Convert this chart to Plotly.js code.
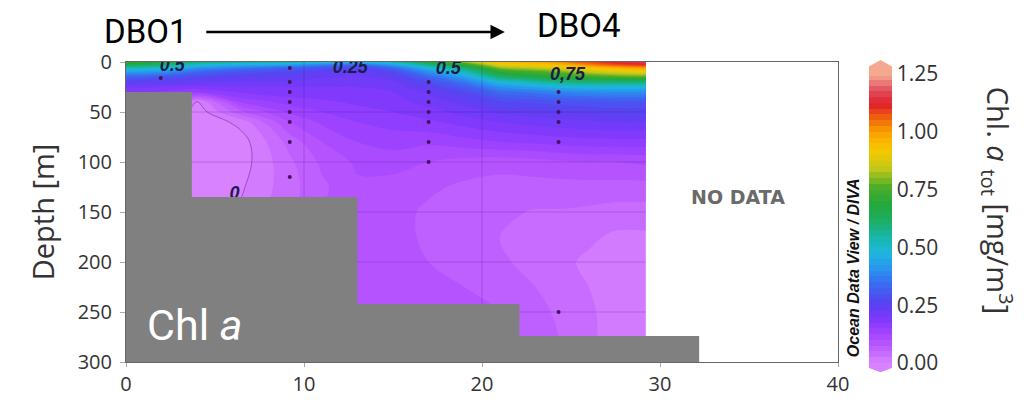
<!DOCTYPE html>
<html>
<head>
<meta charset="utf-8">
<script src="https://cdn.plot.ly/plotly-3.0.1.min.js"></script>
<style>html,body{margin:0;padding:0;background:#fff;}#chart{width:1025px;height:404px;}</style>
</head>
<body>
<div id="chart"></div>
<script>
// ---- data read from the section (distance km, depth m, Chl a mg/m3) ----
const distKm = [0, 2, 4, 6.5, 9.2, 11, 13, 15, 17, 19, 21, 23, 24.3, 26, 27.5, 29.2];
const depthM = [0, 3, 6, 10, 15, 20, 25, 30, 40, 50, 60, 80, 100, 125, 150, 175, 200, 225, 250, 275, 300];
const chlGrid = [
  [0.72,0.68,0.60,0.55,0.54,0.50,0.47,0.53,0.68,0.80,0.95,0.98,1.02,1.08,1.13,1.17],
  [0.65,0.60,0.50,0.45,0.42,0.37,0.33,0.42,0.58,0.70,0.88,0.92,0.95,1.02,1.07,1.10],
  [0.52,0.50,0.41,0.36,0.32,0.29,0.26,0.33,0.48,0.60,0.80,0.84,0.87,0.93,0.97,1.00],
  [0.42,0.40,0.33,0.29,0.27,0.25,0.23,0.27,0.40,0.52,0.70,0.75,0.78,0.84,0.87,0.90],
  [0.32,0.30,0.27,0.25,0.24,0.23,0.22,0.24,0.33,0.43,0.60,0.66,0.70,0.73,0.75,0.76],
  [0.25,0.24,0.23,0.22,0.22,0.21,0.21,0.22,0.28,0.36,0.48,0.54,0.58,0.60,0.60,0.60],
  [0.21,0.20,0.19,0.20,0.20,0.20,0.20,0.21,0.25,0.31,0.40,0.44,0.47,0.48,0.48,0.47],
  [0.18,0.17,0.15,0.18,0.19,0.19,0.19,0.20,0.23,0.27,0.34,0.36,0.38,0.39,0.40,0.40],
  [0.14,0.12,-0.005,0.13,0.16,0.17,0.18,0.19,0.21,0.235,0.27,0.28,0.29,0.295,0.30,0.30],
  [0.10,0.05,-0.02,0.07,0.13,0.15,0.165,0.175,0.19,0.21,0.23,0.24,0.245,0.25,0.26,0.26],
  [0.06,0.00,-0.025,0.01,0.10,0.13,0.15,0.16,0.17,0.185,0.20,0.21,0.215,0.22,0.225,0.225],
  [0.02,-0.02,-0.03,-0.012,0.06,0.10,0.125,0.135,0.13,0.14,0.15,0.155,0.16,0.165,0.165,0.165],
  [0.0,-0.02,-0.03,-0.012,0.045,0.08,0.105,0.11,0.10,0.09,0.085,0.09,0.095,0.10,0.10,0.105],
  [0.0,-0.02,-0.025,-0.003,0.04,0.07,0.095,0.09,0.08,0.07,0.065,0.065,0.065,0.065,0.065,0.065],
  [0.0,-0.02,-0.02,0.005,0.045,0.075,0.09,0.085,0.07,0.06,0.055,0.048,0.048,0.045,0.04,0.04],
  [0.0,-0.02,-0.02,0.01,0.05,0.08,0.09,0.085,0.07,0.06,0.05,0.04,0.035,0.03,0.02,0.02],
  [0.0,-0.02,-0.02,0.01,0.06,0.085,0.095,0.09,0.075,0.065,0.055,0.04,0.032,0.02,0.012,0.01],
  [0.0,-0.02,-0.02,0.01,0.07,0.09,0.095,0.095,0.08,0.075,0.065,0.05,0.04,0.025,0.01,0.008],
  [0.0,-0.02,-0.02,0.01,0.08,0.09,0.095,0.095,0.085,0.08,0.075,0.06,0.045,0.03,0.012,0.008],
  [0.0,-0.02,-0.02,0.01,0.08,0.09,0.095,0.095,0.09,0.085,0.08,0.065,0.05,0.03,0.015,0.01],
  [0.0,-0.02,-0.02,0.01,0.08,0.09,0.095,0.095,0.09,0.085,0.08,0.065,0.05,0.03,0.015,0.01]
];
// bottom topography (gray)
const bathDist  = [0, 0, 3.7, 3.7, 13.0, 13.0, 22.1, 22.1, 32.2, 32.2];
const bathDepth = [300, 30, 30, 135, 135, 242, 242, 274, 274, 300];
// sample positions
const sampleDist  = [1.95, 9.2,9.2,9.2,9.2,9.2,9.2,9.2,9.2, 17.0,17.0,17.0,17.0,17.0,17.0,17.0, 24.3,24.3,24.3,24.3,24.3,24.3];
const sampleDepth = [16, 6,20,30,40,50,60,80,115, 20,30,40,50,60,80,100, 30,40,50,60,80,250];
// contour labels
const labelText  = ["0.5", "0.25", "0.5", "0,75", "0"];
const labelDist  = [2.6, 12.6, 18.1, 24.8, 6.1];
const labelDepth = [4, 6, 7, 13, 132];
// colour scale (value, colour)
const scaleVals   = [0.00, 0.05, 0.10, 0.15, 0.20, 0.25, 0.32, 0.40, 0.47, 0.53, 0.60, 0.68, 0.76, 0.84, 0.92, 1.00, 1.06, 1.12, 1.18, 1.25];
const scaleColors = ["#d882ff","#c364ff","#b04fff","#963fff","#7a38fb","#5b40f2","#4060f0","#2a90f0","#1fb5e0","#17b8b8",
                     "#1cb070","#22a83c","#4aac2a","#c4c818","#f8c800","#f9a000","#f06010","#e0202a","#e25060","#f5a890"];
const cbTicks = [0, 0.25, 0.5, 0.75, 1.0, 1.25];
const cbTickText = ["0.00", "0.25", "0.50", "0.75", "1.00", "1.25"];
const xTicks = [0, 10, 20, 30, 40];
const yTicks = [0, 50, 100, 150, 200, 250, 300];

const zMax = 1.25;
const colorscale = scaleVals.map((v, i) => [v / zMax, scaleColors[i]]);

// grid lines over the data field only
const xEnd = distKm[distKm.length - 1];
const gx = [], gy = [];
xTicks.filter(t => t > 0 && t < xEnd).forEach(t => { gx.push(t, t, null); gy.push(0, 300, null); });
yTicks.filter(t => t > 0 && t < 300).forEach(t => { gx.push(0, xEnd, null); gy.push(t, t, null); });

const traces = [
  {
    type: 'contour', x: distKm, y: depthM, z: chlGrid,
    zmin: 0, zmax: zMax, autocontour: false,
    contours: { start: 0, end: zMax, size: 0.025, coloring: 'fill', showlines: false },
    line: { width: 0, smoothing: 1 },
    colorscale: colorscale,
    colorbar: {
      x: 1.0435, xanchor: 'left', xpad: 0, ypad: 0,
      y: 0.478, yanchor: 'middle', len: 0.963, lenmode: 'fraction',
      thickness: 23, outlinewidth: 0,
      tickmode: 'array', tickvals: cbTicks, ticktext: cbTickText,
      ticks: '', tickfont: { family: 'Open Sans, sans-serif', size: 21, color: '#333' }
    },
    hoverinfo: 'skip'
  },
  {
    type: 'contour', x: distKm, y: depthM, z: chlGrid, showscale: false,
    autocontour: false, contours: { start: 0, end: 0, size: 0.1, coloring: 'none', showlines: true },
    line: { width: 0.8, color: 'rgba(80,20,110,0.55)', smoothing: 1 },
    hoverinfo: 'skip'
  },
  {
    type: 'scatter', mode: 'lines', x: gx, y: gy,
    line: { color: 'rgba(70,10,120,0.22)', width: 1 }, hoverinfo: 'skip', showlegend: false
  },
  {
    type: 'scatter', mode: 'markers', x: sampleDist, y: sampleDepth,
    marker: { color: '#4a1060', size: 4 }, hoverinfo: 'skip', showlegend: false
  },
  {
    type: 'scatter', mode: 'text', x: labelDist, y: labelDepth, text: labelText,
    textposition: 'middle center', cliponaxis: true,
    textfont: { family: 'Liberation Sans, Arial, sans-serif', size: 18, color: '#1c1c48', weight: 'bold', style: 'italic' },
    hoverinfo: 'skip', showlegend: false
  },
  {
    type: 'scatter', mode: 'lines', x: bathDist, y: bathDepth, fill: 'toself',
    fillcolor: '#808080', line: { width: 0, color: '#808080' }, hoverinfo: 'skip', showlegend: false
  }
];

const narrowFont = (size, color) => ({ family: 'Roboto, Liberation Sans, sans-serif', size: size, color: color });
const layout = {
  width: 1025, height: 404,
  margin: { l: 126, r: 187, t: 62, b: 42 },
  paper_bgcolor: '#fff', plot_bgcolor: '#fff',
  showlegend: false,
  xaxis: {
    range: [0, 40], tickmode: 'array', tickvals: xTicks, showgrid: false, zeroline: false,
    showline: true, mirror: true, linecolor: '#666', linewidth: 1, layer: 'above traces',
    ticks: 'outside', ticklen: 4, tickcolor: '#aaa',
    tickfont: { family: 'Open Sans, sans-serif', size: 20, color: '#333' }
  },
  yaxis: {
    range: [300, 0], tickmode: 'array', tickvals: yTicks, showgrid: false, zeroline: false,
    showline: true, mirror: true, linecolor: '#666', linewidth: 1, layer: 'above traces',
    ticks: 'outside', ticklen: 5, tickcolor: '#aaa', ticklabelstandoff: 4,
    tickfont: { family: 'Open Sans, sans-serif', size: 20, color: '#333' },
    title: { text: 'Depth [m]', standoff: 14, font: { family: 'Open Sans, sans-serif', size: 29, color: '#333' } }
  },
  shapes: [
    { type: 'path', xref: 'paper', yref: 'paper', layer: 'above', line: { width: 0 }, fillcolor: '#f5a890',
      path: 'M 1.0435 0.959 L 1.0435 0.985 L 1.0597 1.007 L 1.0758 0.985 L 1.0758 0.959 Z' },
    { type: 'path', xref: 'paper', yref: 'paper', layer: 'above', line: { width: 0 }, fillcolor: '#d882ff',
      path: 'M 1.0435 -0.002 L 1.0435 -0.02 L 1.0597 -0.034 L 1.0758 -0.02 L 1.0758 -0.002 Z' }
  ],
  annotations: [
    { xref: 'paper', yref: 'paper', x: 0.0267, y: 1.10, xanchor: 'center', yanchor: 'middle', text: 'DBO1', showarrow: false,
      font: narrowFont(33, '#000') },
    { xref: 'paper', yref: 'paper', x: 0.636, y: 1.123, xanchor: 'center', yanchor: 'middle', text: 'DBO4', showarrow: false,
      font: narrowFont(33, '#000') },
    { xref: 'paper', yref: 'paper', x: 0.532, y: 1.1, text: '', showarrow: true,
      ax: -300, ay: 0, arrowhead: 2, arrowsize: 1.1, arrowwidth: 2.6, arrowcolor: '#000', standoff: 0 },
    { xref: 'paper', yref: 'paper', x: 0.86, y: 0.55, xanchor: 'center', yanchor: 'middle', text: 'NO DATA', showarrow: false,
      font: { family: 'DejaVu Sans, sans-serif', size: 19, color: '#6a6a6a', weight: 'bold' } },
    { xref: 'paper', yref: 'paper', x: 0.097, y: 0.125, xanchor: 'center', yanchor: 'middle', text: 'Chl <i>a</i>', showarrow: false,
      font: narrowFont(43, '#fff') },
    { xref: 'paper', yref: 'paper', x: 1.022, y: 0.315, xanchor: 'center', yanchor: 'middle', text: 'Ocean Data View / DIVA', showarrow: false,
      textangle: -90, font: { family: 'Liberation Sans, Arial, sans-serif', size: 16, color: '#111', weight: 'bold', style: 'italic' } },
    { xref: 'paper', yref: 'paper', x: 1.225, y: 0.54, xanchor: 'center', yanchor: 'middle', showarrow: false, textangle: 90,
      text: 'Chl. <i>a</i> <sub>tot</sub> [mg/m<sup>3</sup>]',
      font: { family: 'Open Sans, sans-serif', size: 29, color: '#333' } }
  ]
};

Plotly.newPlot('chart', traces, layout, { staticPlot: true, displayModeBar: false });
</script>
</body>
</html>
